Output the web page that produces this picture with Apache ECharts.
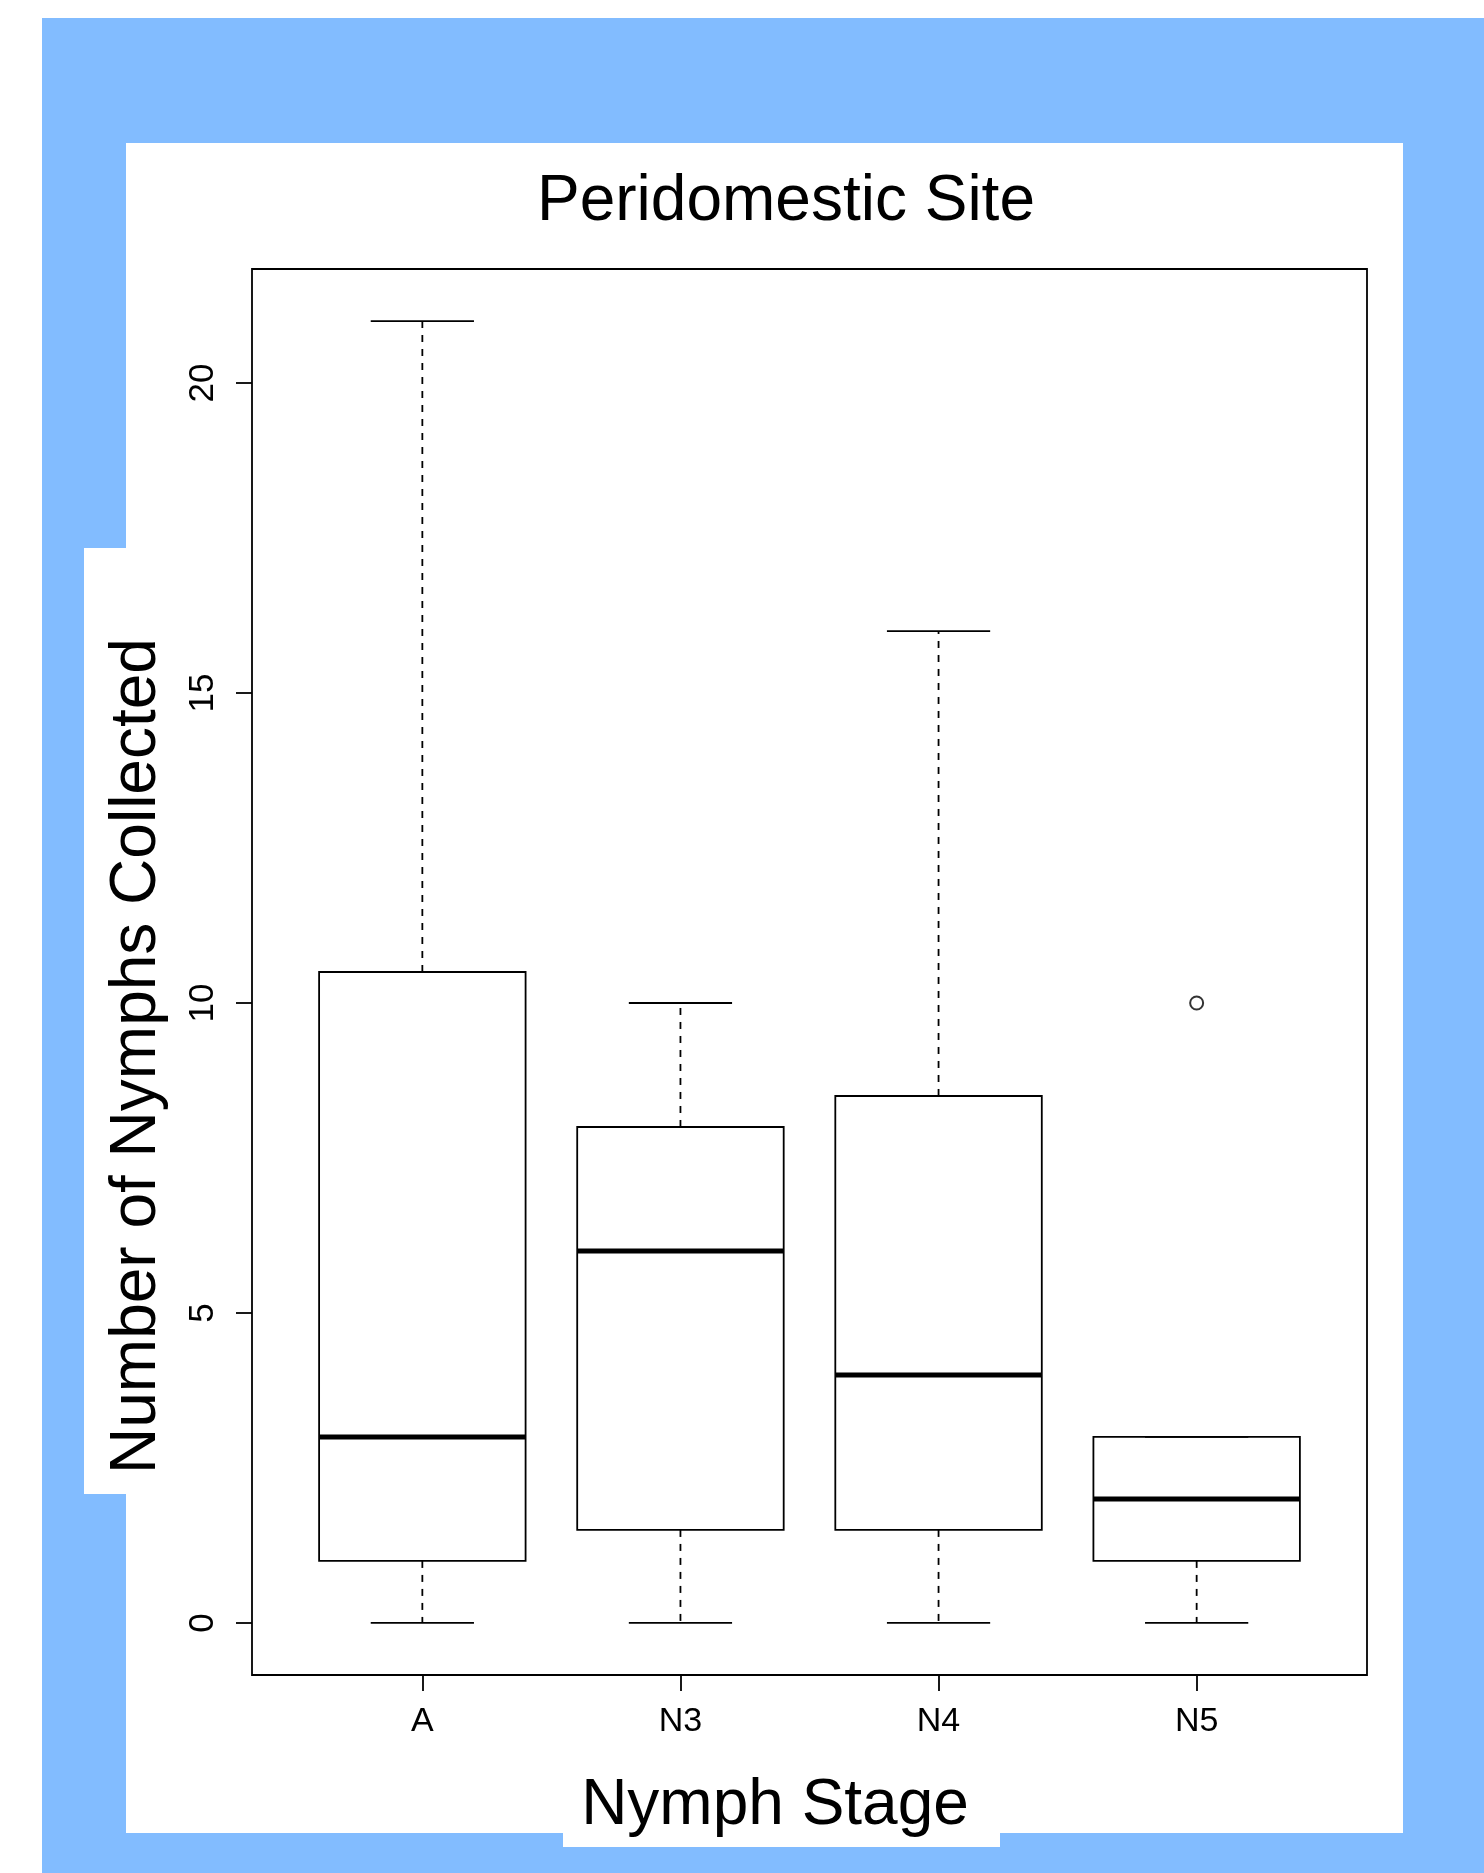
<!DOCTYPE html>
<html><head><meta charset="utf-8">
<script src="https://cdn.jsdelivr.net/npm/echarts@6/dist/echarts.min.js"></script>
<style>html,body{margin:0;padding:0;background:#fff}#c{width:1484px;height:1873px}</style>
</head><body><div id="c"></div>
<script>
// ---- data ----
const categories = ['A', 'N3', 'N4', 'N5'];
const whiskerLow = [0, 0, 0, 0];
const q1 = [1, 1.5, 1.5, 1];
const median = [3, 6, 4, 2];
const q3 = [10.5, 8, 8.5, 3];
const whiskerHigh = [21, 10, 16, 3];
const outlierCategory = ['N5'];
const outlierValue = [10];
const yTicks = [0, 5, 10, 15, 20];
const chartTitle = 'Peridomestic Site';
const xTitle = 'Nymph Stage';
const yTitle = 'Number of Nymphs Collected';

// ---- build ----
const FONT = '"Liberation Sans", Arial, Helvetica, sans-serif';
const xTicks = categories.map((c, i) => i + 1);
const boxData = categories.map((c, i) => [i + 1, whiskerLow[i], q1[i], median[i], q3[i], whiskerHigh[i]]);
const outlierData = outlierCategory.map((c, k) => [categories.indexOf(c) + 1, outlierValue[k]]);

const BOX_HALF = 0.4, STAPLE_HALF = 0.2, LW = 1.8;
function renderBox(params, api) {
  const x = api.value(0);
  const lo = api.value(1), a = api.value(2), m = api.value(3), b = api.value(4), hi = api.value(5);
  const P = (dx, v) => api.coord([x + dx, v]);
  const ln = (p1, p2, extra) => ({
    type: 'line',
    shape: { x1: p1[0], y1: p1[1], x2: p2[0], y2: p2[1] },
    style: Object.assign({ stroke: '#000', lineWidth: LW, fill: null }, extra || {})
  });
  const tl = P(-BOX_HALF, b), br = P(BOX_HALF, a);
  return {
    type: 'group',
    children: [
      ln(P(0, b), P(0, hi), { lineDash: [7, 7] }),
      ln(P(0, a), P(0, lo), { lineDash: [7, 7] }),
      ln(P(-STAPLE_HALF, hi), P(STAPLE_HALF, hi)),
      ln(P(-STAPLE_HALF, lo), P(STAPLE_HALF, lo)),
      { type: 'rect', shape: { x: tl[0], y: tl[1], width: br[0] - tl[0], height: br[1] - tl[1] },
        style: { fill: 'none', stroke: '#000', lineWidth: LW } },
      ln(P(-BOX_HALF, m), P(BOX_HALF, m), { lineWidth: 5 })
    ]
  };
}

const chart = echarts.init(document.getElementById('c'), null, { renderer: 'canvas' });
chart.setOption({
  animation: false,
  backgroundColor: '#fff',
  title: [
    { text: chartTitle, left: 786, top: 170, textAlign: 'center', padding: 0,
      textStyle: { fontFamily: FONT, fontSize: 64, fontWeight: 'normal', color: '#000' } },
    { text: xTitle, left: 775, top: 1774, textAlign: 'center', padding: 0,
      textStyle: { fontFamily: FONT, fontSize: 64, fontWeight: 'normal', color: '#000' } }
  ],
  graphic: [
    { type: 'rect', z: -100, shape: { x: 42, y: 18, width: 1442, height: 1855 }, style: { fill: '#82bcff' } },
    { type: 'rect', z: -99, shape: { x: 126, y: 143, width: 1277, height: 1690 }, style: { fill: '#fff' } },
    { type: 'rect', z: -99, shape: { x: 84, y: 548, width: 50, height: 946 }, style: { fill: '#fff' } },
    { type: 'rect', z: -99, shape: { x: 563, y: 1820, width: 437, height: 27 }, style: { fill: '#fff' } },
    { type: 'text', x: 137, y: 1056, rotation: Math.PI / 2,
      style: { text: yTitle, font: '64px ' + FONT, fill: '#000', textAlign: 'center', textVerticalAlign: 'middle' } }
  ],
  grid: {
    left: 252, top: 269, width: 1115, height: 1406,
    show: true, borderColor: '#000', borderWidth: LW, backgroundColor: 'transparent'
  },
  xAxis: {
    type: 'value', min: 0.34, max: 4.66,
    splitLine: { show: false },
    axisLine: { show: false, onZero: false },
    axisTick: { show: true, customValues: xTicks, length: 16, lineStyle: { color: '#000', width: LW } },
    axisLabel: { customValues: xTicks, formatter: v => categories[Math.round(v) - 1] || '',
      margin: 30, fontFamily: FONT, fontSize: 34, color: '#000' }
  },
  yAxis: {
    type: 'value', min: -0.84, max: 21.84,
    splitLine: { show: false },
    axisLine: { show: false, onZero: false },
    axisTick: { show: true, customValues: yTicks, length: 16, lineStyle: { color: '#000', width: LW } },
    axisLabel: { customValues: yTicks, rotate: 90, margin: 31, fontFamily: FONT, fontSize: 35, color: '#000' }
  },
  series: [
    { type: 'custom', renderItem: renderBox, data: boxData, encode: { x: 0, y: [1, 2, 3, 4, 5] }, z: 3, silent: true },
    { type: 'scatter', data: outlierData, symbol: 'circle', symbolSize: 13, z: 4, silent: true,
      itemStyle: { color: '#fff', borderColor: '#000', borderWidth: 2 } }
  ]
});
</script></body></html>
